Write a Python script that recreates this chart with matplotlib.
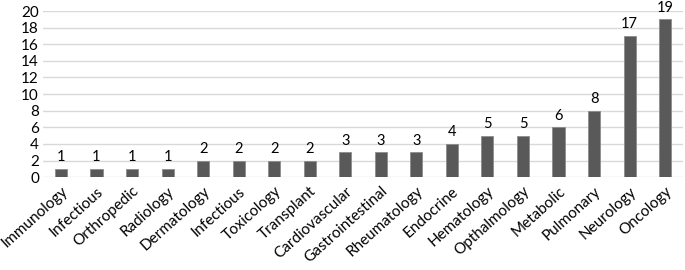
import matplotlib
matplotlib.use("Agg")
import matplotlib.pyplot as plt

categories = ["Immunology", "Infectious", "Orthropedic", "Radiology", "Dermatology",
              "Infectious", "Toxicology", "Transplant", "Cardiovascular", "Gastrointestinal",
              "Rheumatology", "Endocrine", "Hematology", "Opthalmology", "Metabolic",
              "Pulmonary", "Neurology", "Oncology"]
values = [1, 1, 1, 1, 2, 2, 2, 2, 3, 3, 3, 4, 5, 5, 6, 8, 17, 19]
yticks = list(range(0, 21, 2))

plt.rcParams['font.family'] = ['Lato', 'DejaVu Sans']

fig = plt.figure(figsize=(6.85, 2.7), dpi=100)
ax = fig.add_axes([0.063, 0.344, 0.934, 0.615])
x = list(range(len(categories)))
bars = ax.bar(x, values, width=0.34, color='#595959', edgecolor='#8c8c8c', linewidth=0.6, zorder=3)
for xi, v in zip(x, values):
    ax.annotate(str(v), (xi, v), xytext=(0, 5.5), textcoords='offset points',
                ha='center', va='baseline', fontsize=10.5, color='black', annotation_clip=False)

ax.set_xlim(-0.5, len(categories) - 0.5)
ax.set_ylim(0, 20)
ax.set_yticks(yticks)
ax.set_yticklabels([str(t) for t in yticks], fontsize=11)
ax.yaxis.grid(True, color='#d9d9d9', linewidth=1.0, zorder=0)
ax.set_axisbelow(True)
for s in ax.spines.values():
    s.set_visible(False)
ax.tick_params(axis='both', length=0, pad=3)
ax.set_xticks(x)
ax.set_xticklabels(categories, rotation=42, ha='right', rotation_mode='anchor', fontsize=11)
ax.tick_params(axis='x', pad=5)

fig.savefig('out.png', dpi=100)
